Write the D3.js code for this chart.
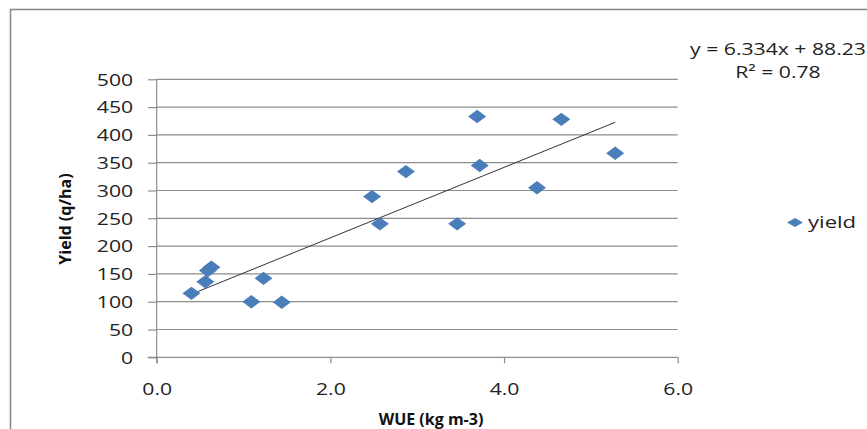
<!DOCTYPE html>
<html><head><meta charset="utf-8">
<script src="https://cdn.jsdelivr.net/npm/d3@7"></script>
<style>body{margin:0;background:#fff}svg{display:block}</style>
</head><body><svg id="c" width="867" height="429"></svg>
<script>
// ---- data ----
const wue        = [0.40, 0.56, 0.59, 0.63, 1.09, 1.23, 1.44, 2.48, 2.57, 2.87, 3.46, 3.69, 3.72, 4.38, 4.66, 5.28];
const yieldVals  = [115, 136, 156, 162, 100, 142, 99, 289, 240, 334, 240, 433, 345, 305, 428, 367];
const xTicks = [0, 2, 4, 6];
const yTicks = [0, 50, 100, 150, 200, 250, 300, 350, 400, 450, 500];
const trendIntercept = 88.23;
const trendSlope = 63.34;
const eqLabel = "y = 6.334x + 88.23";
const r2Label = "R\u00B2 = 0.78";
const seriesName = "yield";
const xTitle = "WUE (kg m-3)";
const yTitle = "Yield (q/ha)";

// ---- layout ----
const W = 867, H = 429;
const SX = 1.3; // horizontal text stretch of the reference
const FONT = "'Open Sans', sans-serif";
const svg = d3.select("#c");
svg.append("rect").attr("width", W).attr("height", H).attr("fill", "#fff");
// outer chart border
svg.append("rect").attr("x", 10.5).attr("y", 9.5).attr("width", W + 20).attr("height", H + 20)
  .attr("fill", "none").attr("stroke", "#8a8a8a").attr("stroke-width", 1.6);

const x = d3.scaleLinear().domain([0, 6]).range([156.7, 677.7]);
const y = d3.scaleLinear().domain([0, 500]).range([357.3, 79.3]);

// gridlines
svg.append("g").selectAll("line").data(yTicks.filter(d => d > 0)).join("line")
  .attr("x1", x(0)).attr("x2", x(6)).attr("y1", d => y(d)).attr("y2", d => y(d))
  .attr("stroke", "#8c8c8c").attr("stroke-width", 1.2);

// y axis
const gy = svg.append("g").attr("transform", `translate(${x(0)},0)`)
  .call(d3.axisLeft(y).tickValues(yTicks).tickSize(8.7).tickPadding(0).tickFormat(d3.format("d")));
gy.select(".domain").attr("stroke", "#8c8c8c").attr("stroke-width", 1.2).attr("d", `M0,${y(0)+6}V${y(500)}`);
gy.selectAll(".tick line").attr("stroke", "#8c8c8c").attr("stroke-width", 1.2);
gy.selectAll(".tick text").attr("font-family", FONT).attr("font-size", 16.3).attr("fill", "#222")
  .attr("x", 0).attr("dy", "0.36em").attr("transform", `translate(-23.5,0) scale(${SX},1)`);

// x axis
const gx = svg.append("g").attr("transform", `translate(0,${y(0)})`)
  .call(d3.axisBottom(x).tickValues(xTicks).tickSize(6).tickPadding(0).tickFormat(d3.format(".1f")));
gx.select(".domain").attr("stroke", "#8c8c8c").attr("stroke-width", 1.2).attr("d", `M${x(0)-9},0H${x(6)}`);
gx.selectAll(".tick line").attr("stroke", "#8c8c8c").attr("stroke-width", 1.2);
gx.selectAll(".tick text").attr("font-family", FONT).attr("font-size", 16.3).attr("fill", "#222")
  .attr("y", 0).attr("dy", 0).attr("transform", `translate(0,38) scale(${SX},1)`);

// trendline
const xmin = d3.min(wue), xmax = d3.max(wue);
svg.append("line")
  .attr("x1", x(xmin)).attr("y1", y(trendIntercept + trendSlope * xmin))
  .attr("x2", x(xmax)).attr("y2", y(trendIntercept + trendSlope * xmax))
  .attr("stroke", "#333").attr("stroke-width", 1);

// points (diamonds)
const diamond = (cx, cy, hw, hh) => `M${cx},${cy-hh}L${cx+hw},${cy}L${cx},${cy+hh}L${cx-hw},${cy}Z`;
svg.append("g").selectAll("path").data(wue.map((w, i) => [w, yieldVals[i]])).join("path")
  .attr("d", d => diamond(x(d[0]), y(d[1]), 9, 6.7))
  .attr("fill", "#4A7EBB");

// axis titles
svg.append("text").attr("transform", `translate(431,424.5)`)
  .attr("text-anchor", "middle").attr("font-family", FONT).attr("font-weight", "bold")
  .attr("font-size", 16).attr("fill", "#111").text(xTitle);
svg.append("text").attr("transform", `translate(71,219) rotate(-90)`)
  .attr("text-anchor", "middle").attr("font-family", FONT).attr("font-weight", "bold")
  .attr("font-size", 16).attr("fill", "#111").text(yTitle);

// equation
svg.append("text").attr("transform", `translate(778,55) scale(${SX},1)`)
  .attr("text-anchor", "middle").attr("font-family", FONT).attr("font-size", 16.3).attr("fill", "#222").text(eqLabel);
svg.append("text").attr("transform", `translate(778,78) scale(${SX},1)`)
  .attr("text-anchor", "middle").attr("font-family", FONT).attr("font-size", 16.3).attr("fill", "#222").text(r2Label);

// legend
svg.append("path").attr("d", diamond(795, 222.5, 8, 4.5)).attr("fill", "#4A7EBB");
svg.append("text").attr("transform", `translate(808,228.3) scale(${SX},1)`)
  .attr("font-family", FONT).attr("font-size", 17).attr("fill", "#222").text(seriesName);
</script></body></html>
